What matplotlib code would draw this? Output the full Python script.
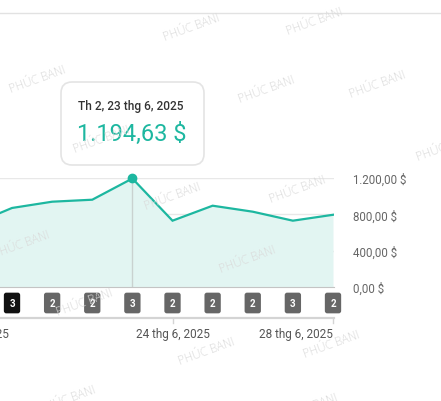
import matplotlib.pyplot as plt
from matplotlib.patches import FancyBboxPatch
from matplotlib.transforms import blended_transform_factory
from matplotlib.lines import Line2D

plt.rcParams['font.family'] = ['Roboto', 'DejaVu Sans']

# days of June 2025 and daily revenue ($)
days = [19, 20, 21, 22, 23, 24, 25, 26, 27, 28]
revenue = [685, 870, 939, 961, 1194.63, 730, 895, 829, 730, 795]
# order counts shown in the badges (20..28)
badge_days = [20, 21, 22, 23, 24, 25, 26, 27, 28]
badge_counts = [3, 2, 2, 3, 2, 2, 2, 3, 2]
yticks = [0, 400, 800, 1200]
ytick_labels = ['0,00 $', '400,00 $', '800,00 $', '1.200,00 $']
xlabel_days = [19, 24, 28]
xlabel_text = ['19 thg 6, 2025', '24 thg 6, 2025', '28 thg 6, 2025']
hover_day = 23
tooltip_date = 'Th 2, 23 thg 6, 2025'
tooltip_value = '1.194,63 $'

W, H = 441, 402
teal = '#1db7a0'

fig = plt.figure(figsize=(W / 100, H / 100), dpi=100)
ax = fig.add_axes([0, (H - 288) / H, 334 / W, 109 / H])

px_per_day = 40.1
ax.set_xlim(20 - 12 / px_per_day, 28 + 1 / px_per_day)
ax.set_ylim(0, 1200)

ax.fill_between(days, revenue, 0, color='#e2f5f2', lw=0)
ax.plot(days, revenue, color=teal, lw=1.6, solid_joinstyle='miter')
ax.axvline(hover_day, color='#c9d2d0', lw=1)
ax.plot([hover_day], [revenue[days.index(hover_day)]], 'o', color=teal,
        ms=6, clip_on=False, zorder=5)

for s in ['top', 'left', 'right']:
    ax.spines[s].set_visible(False)
ax.spines['bottom'].set_color('#c4c4c4')
ax.set_xticks([])
ax.yaxis.tick_right()
ax.set_yticks(yticks)
ax.set_yticklabels(ytick_labels)
ax.tick_params(axis='y', length=0, pad=14, labelsize=8.3, labelcolor='#666666')
ax.grid(axis='y', color='#e8e8e8', lw=1)
ax.set_axisbelow(True)

# count badges under the chart
trans = blended_transform_factory(ax.transData, fig.transFigure)
for i, (d, c) in enumerate(zip(badge_days, badge_counts)):
    fc = '#111111' if i == 0 else '#666666'
    ax.text(d, (H - 304) / H, str(c), transform=trans, ha='center', va='center',
            color='white', fontsize=7, fontweight='bold', clip_on=False,
            bbox=dict(boxstyle='round,pad=0.55,rounding_size=0.25', fc=fc, ec='none'))

# bottom axis strip
fig.add_artist(Line2D([0, 334 / W], [(H - 319) / H] * 2, color='#d4d4d4', lw=1.6))
for d, t in zip(xlabel_days, xlabel_text):
    ha = 'right' if d == xlabel_days[-1] else 'center'
    ax.text(d, (H - 335) / H, t, transform=trans, ha=ha, va='center',
            fontsize=8.5, color='#555555', clip_on=False)
for d in xlabel_days[1:]:
    fig.add_artist(Line2D([ax.transData.transform((d, 0))[0] / W] * 2,
                          [(H - 319) / H, (H - 324) / H], color='#d4d4d4', lw=1))

# top separator
fig.add_artist(Line2D([0, 1], [(H - 14) / H] * 2, color='#e2e2e2', lw=1))

# tooltip
box = FancyBboxPatch((61 / W, (H - 166) / H), 143 / W, 83 / H,
                     boxstyle='round,pad=0,rounding_size=0.025',
                     transform=fig.transFigure, fc='white', ec='#e4e4e4', lw=1.2,
                     mutation_aspect=W / H)
fig.add_artist(box)
fig.text(131 / W, (H - 107) / H, tooltip_date, ha='center', va='center',
         fontsize=8.6, fontweight='medium', color='#333333')
fig.text(132 / W, (H - 134) / H, tooltip_value, ha='center', va='center',
         fontsize=17, color=teal)

# watermarks
wm = [(192, 28), (315, 22), (38, 80), (267, 90), (378, 85), (445, 148), (102, 140),
      (173, 197), (298, 190), (22, 245), (248, 260), (85, 303), (207, 352),
      (332, 345), (68, 400), (310, 408)]
for x, y in wm:
    fig.text(x / W, (H - y) / H, 'PHÚC BANI', ha='center', va='center',
             rotation=20, fontsize=8.5, color='#dadada', family='Open Sans',
             fontweight='light', zorder=10)

fig.savefig('out.png', dpi=100)
